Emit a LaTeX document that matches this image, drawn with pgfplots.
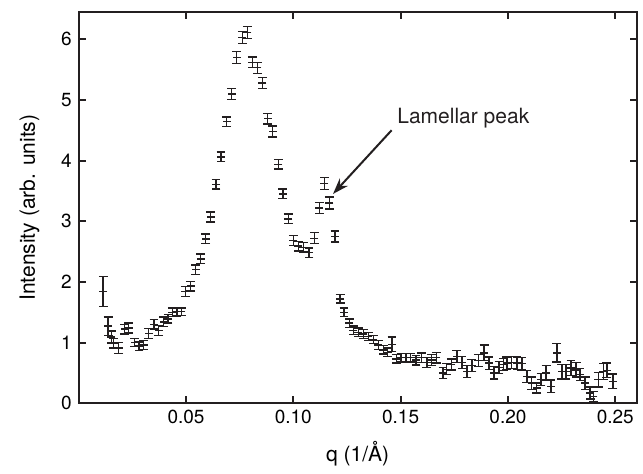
\documentclass[border=0pt]{standalone}
\usepackage{fontspec}
\setmainfont{TeX Gyre Heros}
\usepackage{pgfplots}
\pgfplotsset{compat=1.18}
\usepackage{pgfplotstable}
\usetikzlibrary{arrows.meta,calc}
\definecolor{ink}{HTML}{231F20}

% q (1/A), intensity, error
\pgfplotstableread{
q I e
0.0114 1.84 0.25
0.0137 1.27 0.15
0.0152 1.09 0.10
0.0163 0.99 0.08
0.0186 0.91 0.09
0.0214 1.22 0.08
0.0233 1.24 0.08
0.0261 1.00 0.07
0.0281 0.94 0.07
0.0303 0.96 0.07
0.0326 1.15 0.08
0.0351 1.30 0.08
0.0373 1.20 0.08
0.0396 1.34 0.08
0.0416 1.39 0.07
0.0436 1.50 0.07
0.0458 1.51 0.07
0.0478 1.51 0.06
0.0497 1.84 0.08
0.0522 1.93 0.08
0.0545 2.20 0.08
0.0568 2.38 0.08
0.0592 2.71 0.08
0.0615 3.07 0.08
0.0640 3.61 0.08
0.0663 4.06 0.08
0.0690 4.64 0.08
0.0713 5.10 0.09
0.0736 5.70 0.10
0.0762 6.03 0.10
0.0786 6.11 0.10
0.0809 5.62 0.09
0.0832 5.53 0.09
0.0856 5.28 0.09
0.0881 4.69 0.09
0.0904 4.48 0.09
0.0930 3.94 0.08
0.0951 3.45 0.08
0.0977 3.04 0.08
0.1000 2.68 0.08
0.1023 2.59 0.08
0.1047 2.57 0.08
0.1073 2.48 0.08
0.1098 2.72 0.09
0.1121 3.22 0.09
0.1145 3.62 0.10
0.1168 3.30 0.10
0.1194 2.75 0.09
0.1218 1.72 0.07
0.1236 1.50 0.07
0.1261 1.32 0.07
0.1280 1.20 0.07
0.1303 1.17 0.07
0.1326 1.14 0.07
0.1350 1.10 0.07
0.1373 1.05 0.07
0.1396 0.96 0.07
0.1419 0.88 0.07
0.1440 0.84 0.07
0.1460 0.97 0.12
0.1480 0.73 0.07
0.1502 0.75 0.07
0.1525 0.75 0.07
0.1547 0.75 0.07
0.1572 0.71 0.08
0.1597 0.75 0.08
0.1622 0.67 0.08
0.1645 0.71 0.09
0.1666 0.75 0.09
0.1697 0.50 0.09
0.1713 0.56 0.09
0.1736 0.64 0.09
0.1762 0.77 0.10
0.1786 0.67 0.10
0.1809 0.52 0.10
0.1832 0.62 0.10
0.1862 0.70 0.10
0.1889 0.83 0.13
0.1912 0.66 0.10
0.1935 0.50 0.10
0.1958 0.59 0.10
0.1978 0.64 0.10
0.1995 0.66 0.10
0.2018 0.67 0.10
0.2042 0.66 0.10
0.2065 0.65 0.10
0.2088 0.44 0.10
0.2111 0.33 0.10
0.2134 0.25 0.08
0.2154 0.39 0.10
0.2178 0.50 0.12
0.2201 0.28 0.10
0.2228 0.83 0.15
0.2251 0.52 0.12
0.2271 0.52 0.12
0.2294 0.58 0.12
0.2318 0.55 0.12
0.2336 0.47 0.10
0.2360 0.33 0.10
0.2383 0.17 0.10
0.2398 0.11 0.08
0.2421 0.39 0.12
0.2445 0.52 0.13
0.2461 0.54 0.12
0.2489 0.36 0.12
}\saxs

\begin{document}
\begin{tikzpicture}
\begin{axis}[
    scale only axis,
    width=279pt, height=195.6pt,
    font=\fontsize{9.5}{11}\selectfont,
    label style={font=\fontsize{10.5}{12}\selectfont},
    xmin=0, xmax=0.26,
    ymin=0, ymax=6.45,
    axis line style={line width=1pt, ink},
    tick align=inside,
    major tick length=3.5pt,
    tick style={line width=1pt, ink},
    xtick={0.05,0.10,0.15,0.20,0.25},
    xticklabels={0.05,0.10,0.15,0.20,0.25},
    ytick={0,1,2,3,4,5,6},
    yticklabels={0,1,2,3,4,5,6},
    xlabel={q (1/Å)},
    ylabel={Intensity (arb. units)},
    xlabel shift=2pt,
    ylabel shift=4pt,
    clip=false,
]
\addplot[ink, line width=0.7pt, only marks, mark=-, mark size=2pt,
    error bars/.cd, y dir=both, y explicit,
    error bar style={line width=0.7pt, ink},
    error mark options={rotate=90, mark size=2.2pt, line width=0.7pt, ink}]
    table[x=q, y=I, y error=e] {\saxs};

\draw[ink, line width=1pt, -{Stealth[length=8pt, width=5.5pt]}]
    (axis cs:0.1458,4.50) -- (axis cs:0.1185,3.45);
\node[anchor=west, inner sep=0pt, text=ink, font=\fontsize{10.5}{12}\selectfont]
    at (axis cs:0.1483,4.70) {Lamellar peak};

\path ($(current axis.south west)+(-39.35pt,-30.85pt)$)
    rectangle ($(current axis.north east)+(3.15pt,6pt)$);
\end{axis}
\end{tikzpicture}
\end{document}
